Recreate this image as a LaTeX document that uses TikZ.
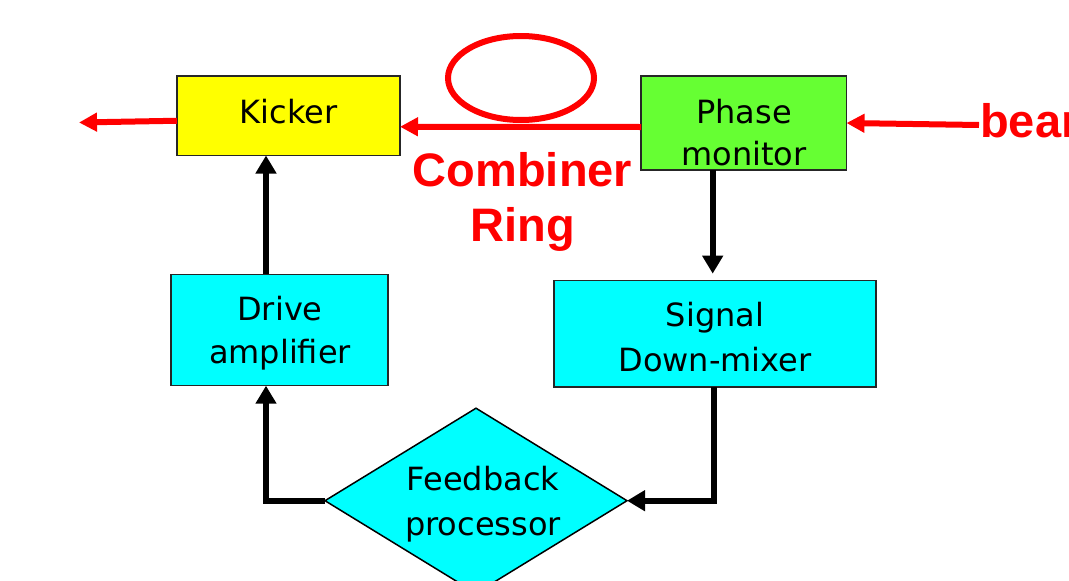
\documentclass[tikz,border=0pt]{standalone}
\usepackage{fontspec}
\setmainfont{DejaVu Sans}
\newfontfamily\redfont{Liberation Sans}
\usetikzlibrary{arrows.meta,shapes.geometric}
\definecolor{kyellow}{HTML}{FFFF00}
\definecolor{pgreen}{HTML}{66FF33}
\definecolor{bcyan}{HTML}{00FFFF}
\definecolor{rred}{HTML}{FF0000}
\begin{document}
\begin{tikzpicture}[x=1pt,y=-1pt,
  boxnode/.style={draw=black!85,line width=1.5pt,inner sep=0pt,outer sep=0pt},
  lbl/.style={font=\fontsize{32}{44}\selectfont,align=center,inner sep=0pt,anchor=base},
  redlbl/.style={font=\redfont\bfseries\fontsize{47}{55}\selectfont,text=rred,align=center,inner sep=0pt,anchor=base},
  redarrow/.style={draw=rred,line width=6pt,-{Triangle[length=18pt,width=18pt]}},
  blkarrow/.style={draw=black,line width=6pt,line join=miter,-{Triangle[length=18pt,width=20pt]}}]
\useasboundingbox (0,0) rectangle (1069,581);
\clip (0,0) rectangle (1069,581);
\fill[white] (0,0) rectangle (1069,581);
% boxes
\node[boxnode,fill=kyellow,minimum width=223pt,minimum height=79.5pt] (kick) at (288.5,115.75) {};
\node[boxnode,fill=pgreen,minimum width=205.5pt,minimum height=94pt] (pm) at (743.75,123) {};
\node[boxnode,fill=bcyan,minimum width=217pt,minimum height=111.4pt] (drv) at (279.5,330) {};
\node[boxnode,fill=bcyan,minimum width=322pt,minimum height=106.3pt] (sig) at (715,333.8) {};
\node[draw=black,line width=1.5pt,fill=bcyan,shape=diamond,minimum width=302pt,minimum height=185pt,inner sep=0pt,outer sep=0pt] (fb) at (476,500.7) {};
% labels (anchor at the baseline of the last line)
\node[lbl] (tkick) at (288.5,123.3) {Kicker};
\node[lbl,font=\fontsize{32}{42}\selectfont] (tpm) at (744,165) {Phase\\monitor};
\node[lbl,font=\fontsize{32}{43}\selectfont] (tdrv) at (280,363) {Drive\\amplifier};
\node[lbl,font=\fontsize{32}{45}\selectfont] (tsig) at (715,371.7) {Signal\\Down-mixer};
\node[lbl,font=\fontsize{32}{45}\selectfont] (tfb) at (483,535) {Feedback\\processor};
\node[redlbl] (tcomb) at (522.5,241.7) {Combiner\\Ring};
\node[redlbl,anchor=base west] (tbeam) at (980,137.7) {beam};
% ring
\draw[rred,line width=6pt] (521,78) ellipse [x radius=73, y radius=42];
% red beam path
\coordinate (bstart) at (979,125);
\coordinate (bout) at (79,122.5);
\draw[redarrow] (bstart) -- (pm.east);
\draw[redarrow] ([yshift=-4pt]pm.west) -- ([yshift=-11pt]kick.east);
\draw[redarrow] ([yshift=-5pt]kick.west) -- (bout);
% black feedback loop
\coordinate (xa) at (266,0);
\coordinate (xs) at (714,0);
\coordinate (xp) at (712.7,0);
\draw[blkarrow] (xa |- drv.north) -- (xa |- kick.south);
\draw[blkarrow] (fb.west) -| (xa |- drv.south);
\draw[blkarrow] (xs |- sig.south) |- (fb.east);
\draw[blkarrow,shorten >=7pt] (xp |- pm.south) -- (xp |- sig.north);
\end{tikzpicture}
\end{document}
